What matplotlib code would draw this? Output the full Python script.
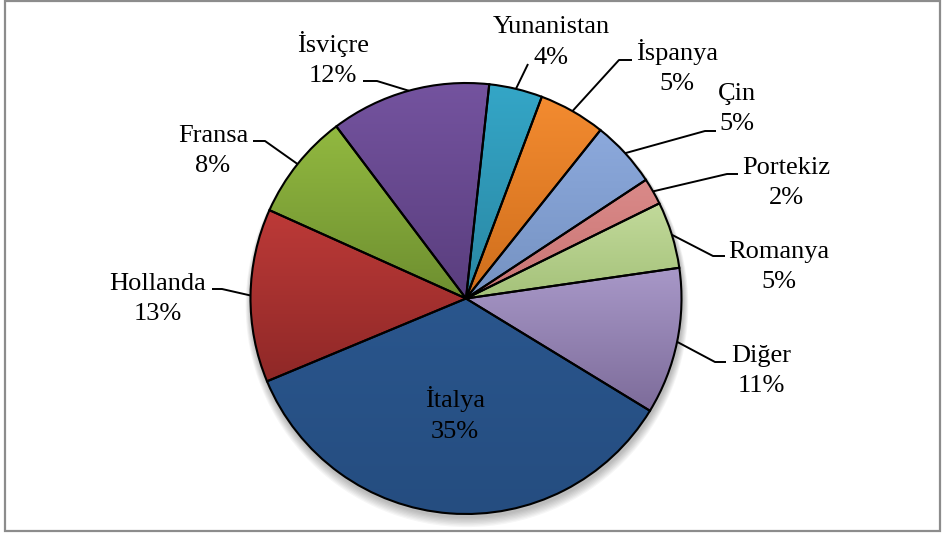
import numpy as np
import matplotlib
matplotlib.use('Agg')
import matplotlib.pyplot as plt
from matplotlib.colors import to_rgb
from matplotlib.patches import Circle, Rectangle

# data (clockwise from the top)
countries = ['Yunanistan', 'İspanya', 'Çin', 'Portekiz', 'Romanya',
             'Diğer', 'İtalya', 'Hollanda', 'Fransa', 'İsviçre']
shares = [4, 5, 5, 2, 5, 11, 35, 13, 8, 12]

# styling: gradient top / bottom colours per slice
top_colors = ['#34A6C7', '#F38B30', '#8CA9DC', '#DA8A89', '#C2DA9B',
              '#A898C8', '#2A568D', '#BD3A38', '#92B940', '#74539F']
bottom_colors = ['#2A87A3', '#CF6E1C', '#7592C2', '#C97473', '#A5C27A',
                 '#7D6C9A', '#254D80', '#8F2827', '#6E8F30', '#5A3E7E']

# label layout in pixel coords: text centre x, baseline of first line,
# elbow of leader and end of leader (None = no leader)
label_x = [551, 677, 737, 786, 779, 761, 455, 158, 213, 333]
label_base = [33, 60, 100, 174, 258, 362, 407, 290, 142, 52]
elbows = [(528, 64), (619, 60), (705, 131), (727, 174), (713, 256),
          (715, 362), None, (222, 289), (265, 141), (377, 81)]
ends = [(528, 64), (632, 60), (716, 131), (738, 174), (725, 256),
        (726, 362), None, (212, 289), (253, 141), (363, 81)]

W, H = 947, 534
cx, cy, R = 466, 298.5, 215.5
start = 83.8
fs = 19


def py(y):
    return H - y


plt.rcParams['font.family'] = ['Liberation Serif', 'DejaVu Serif']

fig = plt.figure(figsize=(W / 100, H / 100), dpi=100)
ax = fig.add_axes([0, 0, 1, 1])

# frame
ax.add_patch(Rectangle((5, py(531)), 935, 530, fill=False,
                       edgecolor='#8C8C8C', lw=1.6, zorder=0))

# soft shadow under the pie
for k in range(8):
    ax.add_patch(Circle((cx + 1, py(cy) - 3 - k * 0.6), R + 1 + k * 0.7,
                        facecolor='black', edgecolor='none',
                        alpha=0.035, zorder=0.2))

wedges, _ = ax.pie(shares, center=(cx, py(cy)), radius=R, startangle=start,
                   counterclock=False, frame=True,
                   wedgeprops=dict(facecolor='none', edgecolor='black',
                                   linewidth=1.5, zorder=2))

for w, c0, c1 in zip(wedges, top_colors, bottom_colors):
    ext = w.get_path().get_extents()
    t = np.linspace(0, 1, 128)[:, None]
    grad = (1 - t) * np.array(to_rgb(c1)) + t * np.array(to_rgb(c0))
    im = ax.imshow(grad[:, None, :], extent=(ext.x0, ext.x1, ext.y0, ext.y1),
                   origin='lower', aspect='auto', zorder=1, interpolation='bilinear')
    im.set_clip_path(w)

for i, (name, val) in enumerate(zip(countries, shares)):
    ax.text(label_x[i], py(label_base[i]), name, ha='center', va='baseline',
            fontsize=fs, color='black', zorder=4)
    ax.text(label_x[i], py(label_base[i] + 30.5), '%d%%' % val, ha='center',
            va='baseline', fontsize=fs, color='black', zorder=4)
    if elbows[i] is None:
        continue
    w = wedges[i]
    mid = np.deg2rad((w.theta1 + w.theta2) / 2)
    sx, sy = cx + R * np.cos(mid), py(cy) + R * np.sin(mid)
    ex, ey = elbows[i]
    fx, fy = ends[i]
    ax.plot([sx, ex, fx], [sy, py(ey), py(fy)], color='black', lw=1.4,
            zorder=3, solid_capstyle='butt')

ax.set_xlim(0, W)
ax.set_ylim(0, H)
ax.set_aspect('equal')
ax.axis('off')

fig.savefig('out.png', dpi=100)
